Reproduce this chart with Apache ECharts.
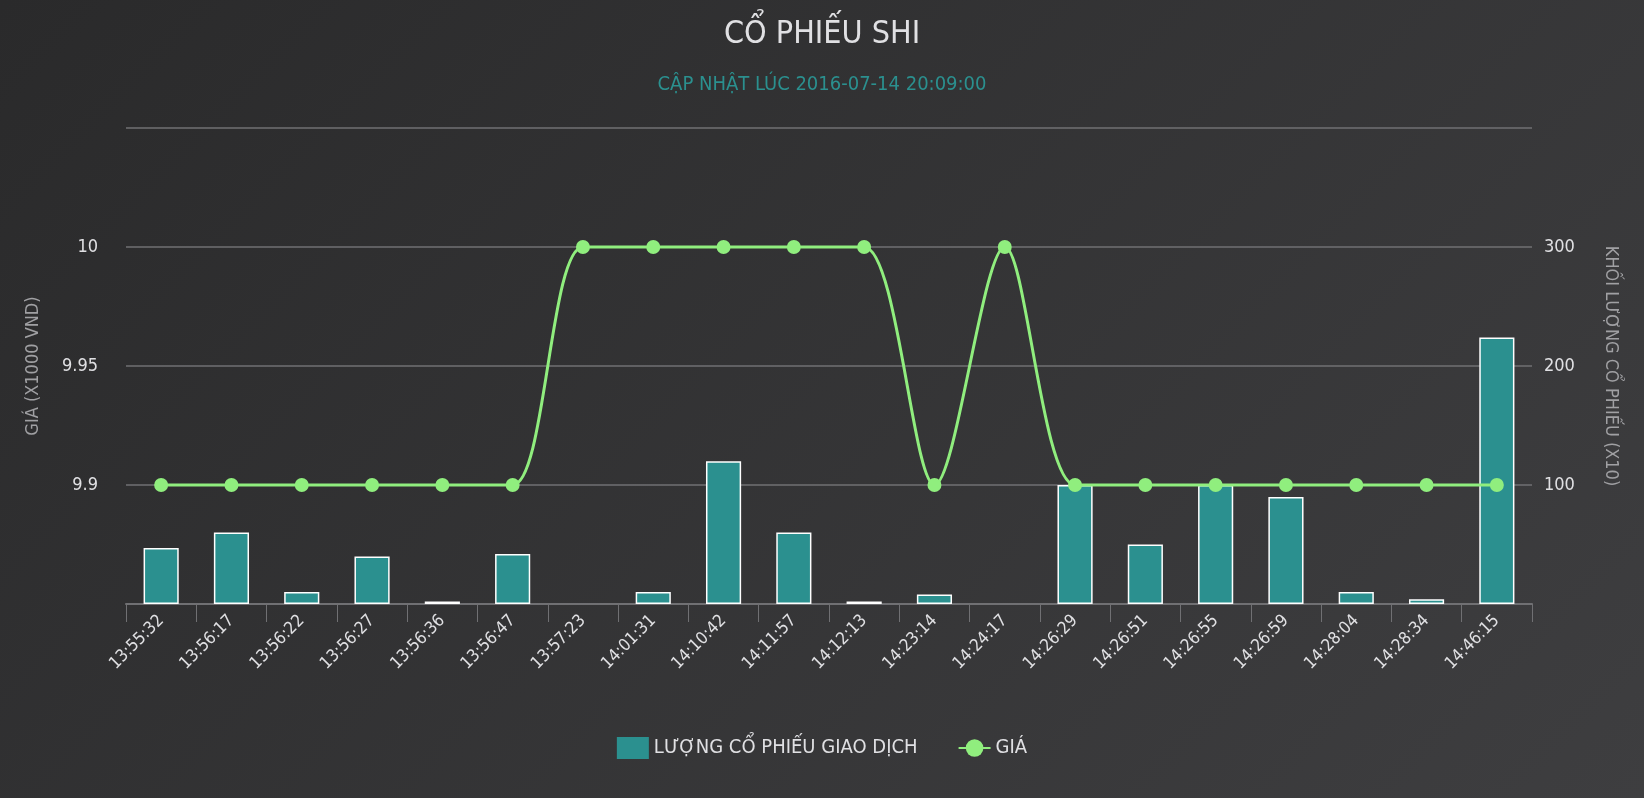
<!DOCTYPE html>
<html><head><meta charset="utf-8">
<script src="https://cdn.jsdelivr.net/npm/echarts@6/dist/echarts.min.js"></script>
<style>
html,body{margin:0;height:100%;background:linear-gradient(135deg,#2a2a2b,#3e3e40);}
#c{width:1644px;height:798px;}
</style></head><body>
<div id="c"></div>
<script>
const times=["13:55:32","13:56:17","13:56:22","13:56:27","13:56:36","13:56:47","13:57:23","14:01:31","14:10:42","14:11:57","14:12:13","14:23:14","14:24:17","14:26:29","14:26:51","14:26:55","14:26:59","14:28:04","14:28:34","14:46:15"];
const volume=[47,60,10,40,2,42,0,10,120,60,2,8,0,100,50,100,90,10,4,224];
const price=[9.9,9.9,9.9,9.9,9.9,9.9,10,10,10,10,10,9.9,10,9.9,9.9,9.9,9.9,9.9,9.9,9.9];
const font="'DejaVu Sans Condensed','Liberation Sans Narrow',sans-serif";

const chart=echarts.init(document.getElementById("c"));
chart.setOption({
  backgroundColor:"transparent",
  textStyle:{fontFamily:font},
  title:{text:"CỔ PHIẾU SHI",subtext:"CẬP NHẬT LÚC 2016-07-14 20:09:00",left:"center",top:14,itemGap:24,
    textStyle:{color:"#e0e0e3",fontSize:32,fontWeight:"normal",fontFamily:font},
    subtextStyle:{color:"#2b908f",fontSize:20,fontFamily:font}},
  legend:{bottom:34,itemGap:40,itemWidth:32,itemHeight:22,
    textStyle:{color:"#e0e0e3",fontSize:20},
    data:[{name:"Lượng cổ phiếu giao dịch",icon:"rect",itemStyle:{borderWidth:0}},{name:"Giá"}],
    formatter:n=>n.toUpperCase()},
  grid:{left:126,right:112,top:128,bottom:194},
  xAxis:{type:"category",data:times,
    axisLine:{lineStyle:{color:"#707073",width:2}},
    axisTick:{show:true,length:18,lineStyle:{color:"#707073"}},
    axisLabel:{rotate:45,color:"#e0e0e3",fontSize:17,margin:14}},
  yAxis:[{type:"value",min:9.85,max:10.05,interval:0.05,name:"GIÁ (X1000 VND)",nameLocation:"middle",nameGap:84,nameRotate:90,
    nameTextStyle:{color:"#a0a0a3",fontSize:18},
    axisLabel:{color:"#e0e0e3",fontSize:18,margin:28,
      formatter:v=>(Math.abs(v-9.85)<1e-6||Math.abs(v-10.05)<1e-6)?"":String(+v.toFixed(2))},
    splitLine:{lineStyle:{color:"#707073",width:1.5}},axisLine:{show:false},axisTick:{show:false}},
   {type:"value",min:0,max:400,interval:100,name:"KHỐI LƯỢNG CỔ PHIẾU (X10)",nameLocation:"middle",nameGap:70,nameRotate:-90,
    nameTextStyle:{color:"#a0a0a3",fontSize:18},
    axisLabel:{color:"#e0e0e3",fontSize:18,margin:12,formatter:v=>(v===0||v===400)?"":v},
    splitLine:{show:false},axisLine:{show:false},axisTick:{show:false}}],
  series:[
    {name:"Lượng cổ phiếu giao dịch",type:"bar",yAxisIndex:1,barWidth:"50%",
      data:volume.map(v=>v===0?"-":v),
      itemStyle:{color:"#2b908f",borderColor:"#ffffff",borderWidth:1.5}},
    {name:"Giá",type:"line",yAxisIndex:0,data:price,smooth:0.3,symbol:"circle",symbolSize:14,
      itemStyle:{color:"#90ee7e"},lineStyle:{color:"#90ee7e",width:3}}
  ]
});
</script></body></html>
